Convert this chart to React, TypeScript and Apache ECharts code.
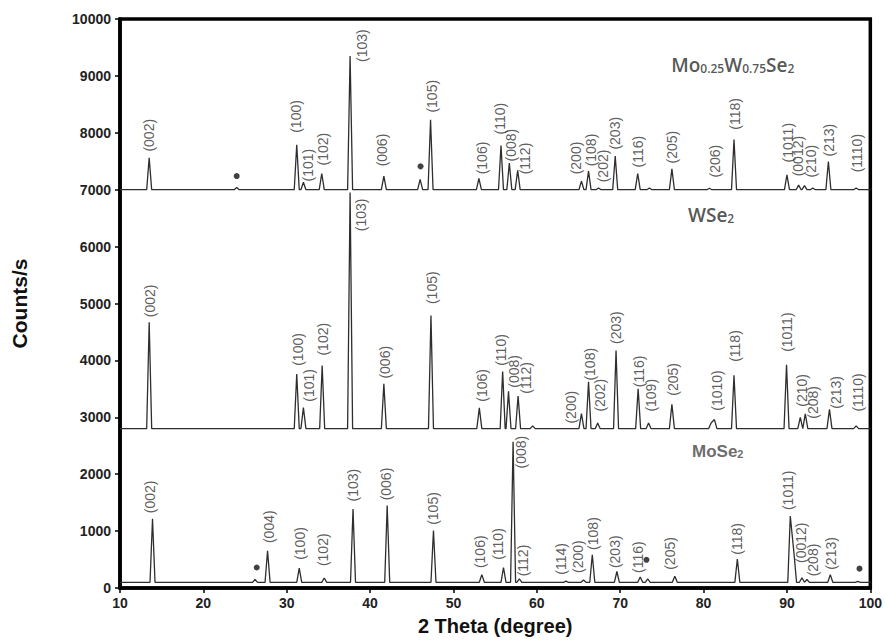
import React, { useEffect, useRef } from "react";
import * as echarts from "echarts";

// Axis ranges
const X_MIN = 10;
const X_MAX = 100;
const X_STEP = 10;
const Y_MIN = 0;
const Y_MAX = 10000;
const Y_STEP = 1000;

// Mo0.25W0.75Se2 trace (offset baseline 7000)
const TOP_BASE = 7000;
const TOP_POS = [13.5, 24.0, 31.2, 32.0, 34.2, 37.6, 41.65, 46.0, 47.25, 53.05, 55.7, 56.7, 57.7, 65.35, 66.2, 67.4, 69.4, 72.1, 73.5, 76.2, 80.7, 83.65, 90.0, 91.4, 92.1, 93.1, 94.97, 98.3];
const TOP_COUNTS = [7560, 7040, 7790, 7130, 7285, 9350, 7240, 7180, 8230, 7200, 7775, 7470, 7340, 7150, 7325, 7030, 7590, 7285, 7030, 7365, 7025, 7880, 7260, 7080, 7070, 7030, 7495, 7030];

// WSe2 trace (offset baseline 2800)
const MID_BASE = 2800;
const MID_POS = [13.5, 31.2, 32.0, 34.25, 37.6, 41.65, 47.3, 53.1, 55.9, 56.6, 57.75, 59.5, 65.35, 66.2, 67.3, 69.5, 72.15, 73.4, 76.2, 80.9, 81.3, 83.65, 89.95, 91.6, 92.2, 95.1, 98.3];
const MID_COUNTS = [4670, 3760, 3170, 3910, 6950, 3590, 4790, 3165, 3805, 3455, 3375, 2850, 3065, 3625, 2900, 4175, 3500, 2900, 3230, 2900, 2960, 3740, 3925, 3000, 3060, 3140, 2850];

// MoSe2 trace (baseline 100)
const BOT_BASE = 100;
const BOT_POS = [13.9, 26.2, 27.7, 31.5, 34.5, 37.95, 42.05, 47.6, 53.4, 56.0, 57.15, 57.9, 63.5, 65.6, 66.65, 69.6, 72.4, 73.3, 76.55, 84.05, 90.4, 90.85, 91.8, 92.4, 95.2, 98.5];
const BOT_COUNTS = [1215, 150, 655, 350, 175, 1390, 1450, 1010, 235, 360, 2570, 160, 120, 140, 585, 290, 195, 160, 205, 510, 1265, 600, 180, 150, 235, 115];

// Miller-index annotations: [text, 2theta, counts at label start]
const TOP_LABELS: [string, number, number][] = [
  ["(002)", 13.5, 7670], ["(100)", 31.1, 8000], ["(101)", 32.6, 7145], ["(102)", 34.4, 7425],
  ["(103)", 39.0, 9245], ["(006)", 41.4, 7410], ["(105)", 47.4, 8355], ["(106)", 53.4, 7270],
  ["(110)", 55.55, 7970], ["(008)", 56.9, 7495], ["(112)", 58.55, 7270], ["(200)", 64.75, 7270],
  ["(108)", 66.55, 7410], ["(202)", 67.95, 7130], ["(203)", 69.35, 7705], ["(116)", 72.15, 7390],
  ["(205)", 76.2, 7460], ["(206)", 81.35, 7215], ["(118)", 83.75, 8055], ["(1011)", 90.1, 7480],
  ["(0012)", 91.3, 7235], ["(210)", 92.9, 7215], ["(213)", 95.1, 7585], ["(1110)", 98.4, 7305],
];
const MID_LABELS: [string, number, number][] = [
  ["(002)", 13.6, 4760], ["(100)", 31.4, 3905], ["(101)", 32.7, 3275], ["(102)", 34.4, 4085],
  ["(103)", 38.9, 6270], ["(006)", 41.8, 3680], ["(105)", 47.4, 4990], ["(106)", 53.4, 3275],
  ["(110)", 55.65, 3905], ["(008)", 57.2, 3520], ["(112)", 58.75, 3415], ["(200)", 64.15, 2890],
  ["(108)", 66.35, 3645], ["(202)", 67.55, 3100], ["(203)", 69.5, 4290], ["(116)", 72.3, 3530],
  ["(109)", 73.75, 3100], ["(205)", 76.35, 3380], ["(1010)", 81.55, 3115], ["(118)", 83.75, 3975],
  ["(1011)", 89.95, 4150], ["(210)", 91.85, 3185], ["(208)", 93.1, 2975], ["(213)", 95.9, 3150],
  ["(1110)", 98.5, 3100],
];
const BOT_LABELS: [string, number, number][] = [
  ["(002)", 13.6, 1315], ["(004)", 27.9, 790], ["(100)", 31.6, 495], ["(102)", 34.4, 385],
  ["(103)", 37.95, 1520], ["(006)", 41.9, 1540], ["(105)", 47.55, 1110], ["(106)", 53.15, 350],
  ["(110)", 55.35, 495], ["(008)", 58.05, 2100], ["(112)", 58.35, 205], ["(114)", 62.95, 235],
  ["(200)", 64.95, 265], ["(108)", 66.75, 670], ["(203)", 69.35, 350], ["(116)", 72.15, 265],
  ["(205)", 75.95, 320], ["(118)", 83.95, 585], ["(1011)", 90.1, 1370], ["(0012)", 91.7, 440],
  ["(208)", 93.1, 205], ["(213)", 95.3, 320],
];

// Impurity markers (•)
const DOTS: [number, number][] = [[24.0, 7240], [46.05, 7410], [26.4, 360], [73.15, 495], [98.7, 340]];

// Sample names
const TITLES: [string, number, number][] = [
  ["{m|Mo}{s|0.25}{m|W}{s|0.75}{m|Se}{s|2}", 83.5, 9230],
  ["{m|WSe}{s|2}", 80.9, 6600],
  ["{b|MoSe}{bs|2}", 81.7, 2450],
];

const HALF_WIDTH = 0.3;

function buildTrace(base: number, pos: number[], counts: number[]) {
  const pts: number[][] = [[X_MIN, base]];
  let lastIsRightBase = false;
  for (let i = 0; i < pos.length; i++) {
    const left = pos[i] - HALF_WIDTH;
    const last = pts[pts.length - 1];
    if (left > last[0]) {
      pts.push([left, base]);
    } else if (lastIsRightBase) {
      pts.pop();
    }
    pts.push([pos[i], counts[i]]);
    pts.push([pos[i] + HALF_WIDTH, base]);
    lastIsRightBase = true;
  }
  pts.push([X_MAX, base]);
  return pts;
}

const FONT = "'Liberation Sans', Arial, sans-serif";

function labelSeries(labels: [string, number, number][]) {
  return {
    type: "scatter",
    silent: true,
    symbolSize: 0,
    z: 5,
    data: labels.map((l) => ({ name: l[0], value: [l[1], l[2]] })),
    label: {
      show: true,
      formatter: "{b}",
      position: "inside",
      rotate: 90,
      align: "left",
      verticalAlign: "middle",
      fontSize: 14,
      color: "#333",
      fontFamily: FONT,
    },
  };
}

function lineSeries(data: number[][]) {
  return {
    type: "line",
    data,
    showSymbol: false,
    silent: true,
    lineStyle: { color: "#2e2e2e", width: 1.3 },
  };
}

export default function App() {
  const ref = useRef<HTMLDivElement>(null);
  useEffect(() => {
    if (!ref.current) return;
    const chart = echarts.init(ref.current, null, { renderer: "svg" });
    const option = {
      animation: false,
      backgroundColor: "#fff",
      textStyle: { fontFamily: FONT },
      grid: {
        left: 120,
        right: 14,
        top: 19,
        bottom: 51,
        show: true,
        borderColor: "#000",
        borderWidth: 3.5,
        backgroundColor: "transparent",
      },
      xAxis: {
        type: "value",
        min: X_MIN,
        max: X_MAX,
        interval: X_STEP,
        name: "2 Theta (degree)",
        nameLocation: "middle",
        nameGap: 28,
        nameTextStyle: { fontSize: 20, fontWeight: "bold", color: "#111", fontFamily: FONT },
        axisLine: { show: true, lineStyle: { color: "#000", width: 3.5 } },
        axisTick: { show: true, inside: false, length: 5, lineStyle: { color: "#000", width: 1.5 } },
        axisLabel: { fontSize: 14, fontWeight: "bold", color: "#222", margin: 8, fontFamily: FONT, formatter: (v: number) => String(v) },
        splitLine: { show: false },
      },
      yAxis: {
        type: "value",
        min: Y_MIN,
        max: Y_MAX,
        interval: Y_STEP,
        name: "Counts/s",
        nameLocation: "middle",
        nameGap: 90,
        nameTextStyle: { fontSize: 21, fontWeight: "bold", color: "#111", fontFamily: FONT },
        axisLine: { show: true, lineStyle: { color: "#000", width: 3.5 } },
        axisTick: { show: true, inside: false, length: 5, lineStyle: { color: "#000", width: 1.5 } },
        axisLabel: { fontSize: 14, fontWeight: "bold", color: "#222", margin: 9, fontFamily: FONT, formatter: (v: number) => String(v) },
        splitLine: { show: false },
      },
      series: [
        lineSeries(buildTrace(TOP_BASE, TOP_POS, TOP_COUNTS)),
        lineSeries(buildTrace(MID_BASE, MID_POS, MID_COUNTS)),
        lineSeries(buildTrace(BOT_BASE, BOT_POS, BOT_COUNTS)),
        labelSeries(TOP_LABELS),
        labelSeries(MID_LABELS),
        labelSeries(BOT_LABELS),
        {
          type: "scatter",
          silent: true,
          symbol: "circle",
          symbolSize: 6,
          itemStyle: { color: "#111" },
          data: DOTS,
        },
        {
          type: "scatter",
          silent: true,
          symbolSize: 0,
          data: TITLES.map((t) => ({ name: t[0], value: [t[1], t[2]] })),
          label: {
            show: true,
            formatter: "{b}",
            position: "inside",
            align: "center",
            verticalAlign: "middle",
            rich: {
              m: { fontSize: 19, lineHeight: 24, fontWeight: 600, color: "#2a2a2a", fontFamily: "'Open Sans', sans-serif", verticalAlign: "bottom" },
              s: { fontSize: 12, lineHeight: 15, fontWeight: 600, color: "#2a2a2a", fontFamily: "'Open Sans', sans-serif", verticalAlign: "bottom" },
              b: { fontSize: 17, lineHeight: 22, fontWeight: "bold", color: "#444", fontFamily: FONT, verticalAlign: "bottom" },
              bs: { fontSize: 11, lineHeight: 14, fontWeight: "bold", color: "#444", fontFamily: FONT, verticalAlign: "bottom" },
            },
          },
        },
      ],
    };
    chart.setOption(option as any);
    return () => chart.dispose();
  }, []);
  return <div ref={ref} style={{ position: "fixed", left: 0, top: 0, width: 885, height: 641 }} />;
}
